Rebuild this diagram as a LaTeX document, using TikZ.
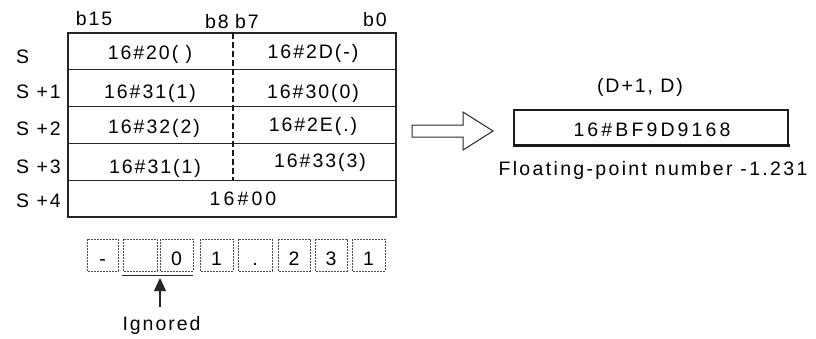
\documentclass[tikz,border=0pt]{standalone}
\usepackage{fontspec}
\setmainfont{Liberation Sans}
\newfontfamily\lblfont[LetterSpace=10]{Liberation Sans}
\newfontfamily\midfont[LetterSpace=12]{Liberation Sans}
\newfontfamily\widefont[LetterSpace=16]{Liberation Sans}
\usetikzlibrary{arrows.meta}
\tikzset{
	lbl/.style={font=\fontsize{19.5}{23}\selectfont\lblfont, inner sep=0pt, anchor=base, text=black},
	midlbl/.style={lbl, font=\fontsize{19.5}{23}\selectfont\midfont},
	widelbl/.style={lbl, font=\fontsize{19.5}{23}\selectfont\widefont},
	tbl/.style={draw=black!85, line width=1.1pt},
	divider/.style={draw=black!90, line width=1.8pt, dash pattern=on 6pt off 3pt},
	charbox/.style={draw=black!70, line width=0.9pt, dash pattern=on 1.6pt off 1.4pt},
	ptr/.style={draw=black!85, line width=1.1pt, -{Triangle[length=13pt,width=12pt]}}
}
\begin{document}
\begin{tikzpicture}[x=1pt,y=-1pt]
	\useasboundingbox (0,0) rectangle (816,338);
	% source registers
	\draw[tbl] (68,33) rectangle (396,217);
	\foreach \y in {69.8,106.6,143.4,180.2}
		\draw[tbl] (68,\y) -- (396,\y);
	\draw[divider] (233,33) -- (233,180.2);
	\node[lbl] (hb15) at (94,25) {b15};
	\node[lbl] (hb8) at (217,28) {b8};
	\node[lbl] (hb7) at (247,28) {b7};
	\node[lbl] (hb0) at (375,26) {b0};
	\node[lbl, anchor=base west] (rs0) at (16,63) {S};
	\node[lbl, anchor=base west] (rs1) at (16,98) {S +1};
	\node[lbl, anchor=base west] (rs2) at (16,135) {S +2};
	\node[lbl, anchor=base west] (rs3) at (16,173) {S +3};
	\node[lbl, anchor=base west] (rs4) at (16,207) {S +4};
	\node[lbl] (hi0) at (150,59) {16\#20( )};
	\node[lbl] (lo0) at (313,58) {16\#2D(-)};
	\node[lbl] (hi1) at (150,98) {16\#31(1)};
	\node[lbl] (lo1) at (313,98) {16\#30(0)};
	\node[lbl] (hi2) at (154,133) {16\#32(2)};
	\node[lbl] (lo2) at (313,131) {16\#2E(.)};
	\node[lbl] (hi3) at (155,173) {16\#31(1)};
	\node[lbl] (lo3) at (320,167) {16\#33(3)};
	\node[widelbl] (nul) at (243,205) {16\#00};
	% hollow arrow
	\draw[black!85, line width=1pt] (412,125) -- (463,125) -- (463,112) -- (493,131)
		-- (463,150) -- (463,137) -- (412,137) -- cycle;
	% result
	\node[lbl] (dreg) at (640,92) {(D+1, D)};
	\draw[black!90, line width=1.1pt] (514,145) -- (514,110) -- (788,110) -- (788,145);
	\draw[black!90, line width=3pt] (512.5,145) -- (789.5,145);
	\node[widelbl] (res) at (652,136) {16\#BF9D9168};
	\node[midlbl] (flt) at (653,175) {Floating-point number -1.231};
	% ascii characters
	\foreach \l/\r/\c [count=\i] in {87/118/-, 123/157/{}, 160/193/0, 200/233/1, 238/272/., 278/310/2, 315/347/3, 352/385/1} {
		\draw[charbox] (\l,239) rectangle (\r,271);
		\node[lbl] (ch\i) at ({(\l+\r)/2},265) {\c};
	}
	\draw[black!85, line width=1.2pt] (122,275.5) -- (193,275.5);
	\coordinate (ignbar) at (160,278);
	\node[lbl] (ign) at (161.5,330) {Ignored};
	\draw[ptr, shorten <=9pt] (ign.north -| ignbar) -- (ignbar);
\end{tikzpicture}
\end{document}
